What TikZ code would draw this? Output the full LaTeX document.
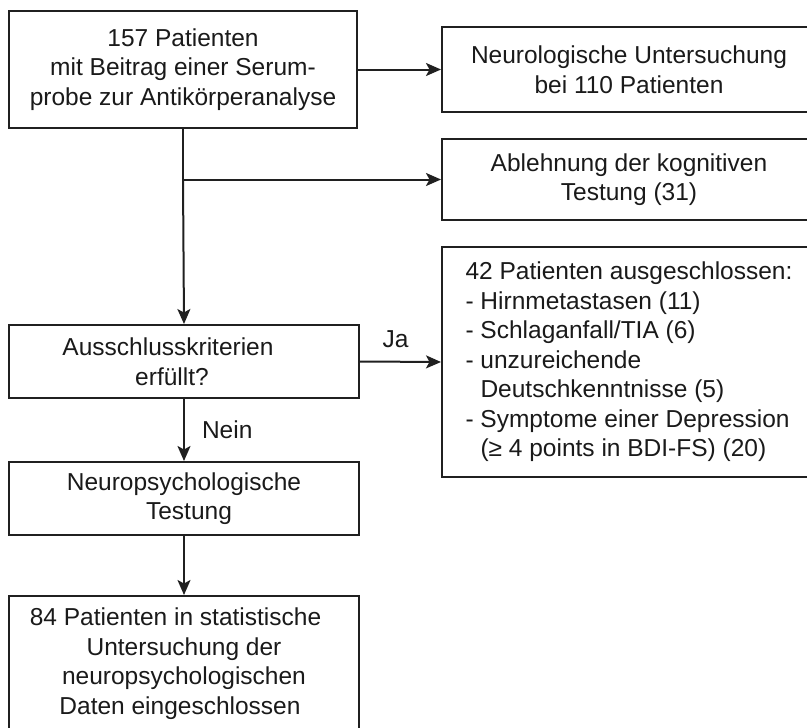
\documentclass[tikz,border=0pt]{standalone}
\usepackage{fontspec}
\setmainfont{Liberation Sans}
\usetikzlibrary{arrows.meta}
\definecolor{linec}{HTML}{202020}
\definecolor{textc}{HTML}{1A1A1A}
\begin{document}
\begin{tikzpicture}[x=1pt,y=-1pt,
  box/.style={draw=linec, line width=2pt, inner sep=0pt, align=center,
    font=\fontsize{24.5}{29.5}\selectfont, text=textc},
  conn/.style={draw=linec, line width=2pt,
    -{Stealth[length=15pt,width=13pt,inset=3.5pt]}},
  lab/.style={inner sep=0pt, font=\fontsize{24.5}{29.5}\selectfont, text=textc}]
\useasboundingbox (0,0) rectangle (807,728);
\fill[white] (0,0) rectangle (807,728);

\node[box, minimum width=348pt, minimum height=117pt] (b1) at (183,69.5)
  {157 Patienten\\mit Beitrag einer Serum-\\probe zur Antikörperanalyse};
\node[box, minimum width=374pt, minimum height=85pt] (b2) at (629,69.5)
  {Neurologische Untersuchung\\bei 110 Patienten};
\node[box, minimum width=374pt, minimum height=81pt] (b3) at (629,179.5)
  {Ablehnung der kognitiven\\Testung (31)};
\node[box, align=left, minimum width=374pt, minimum height=230pt] (b4) at (629,362)
  {42 Patienten ausgeschlossen:\\
   - Hirnmetastasen (11)\\
   - Schlaganfall/TIA (6)\\
   - unzureichende\\
   \phantom{- }Deutschkenntnisse (5)\\
   - Symptome einer Depression\\
   \phantom{- }(≥ 4 points in BDI-FS) (20)};
\node[box, minimum width=350pt, minimum height=73pt] (b5) at (184,361.5)
  {Ausschlusskriterien\hspace*{32pt}\\erfüllt?\hspace*{24pt}};
\node[box, minimum width=350pt, minimum height=73pt] (b6) at (184,498.5)
  {Neuropsychologische\\\hspace*{10pt}Testung};
\node[box, minimum width=350pt, minimum height=135pt] (b7) at (184,663.5)
  {84 Patienten in statistische\hspace*{17pt}\\Untersuchung der\hspace*{25pt}\\neuropsychologischen\hspace*{16pt}\\Daten eingeschlossen\hspace*{8pt}};

\coordinate (br) at (b1.south |- b3.west);
\draw[conn] (b1.east) -- (b2.west);
\draw[draw=linec, line width=2pt] (b1.south) -- (br);
\draw[conn] (br) -- (b3.west);
\draw[conn] (br) -- (b5.north);
\draw[conn] (b5.east) -- node[lab, above=13pt, xshift=-5pt] (ja) {Ja} (b4.west);
\draw[conn] (b5.south) -- node[lab, right=17pt] (nein) {Nein} (b6.north);
\draw[conn] (b6.south) -- (b7.north);
\end{tikzpicture}
\end{document}
